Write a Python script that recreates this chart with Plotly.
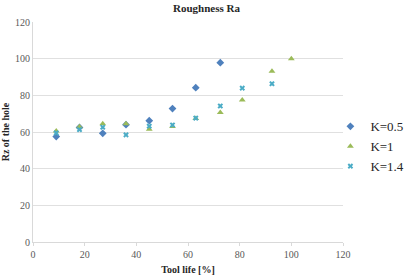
import plotly.graph_objects as go

tool_life_05 = [9, 18, 27, 36, 45, 54, 63, 72.5]
rz_05 = [57.5, 62.5, 59.3, 64.0, 66.2, 72.8, 84.2, 97.8]

tool_life_1 = [9, 18, 27, 36, 45, 54, 63, 72.5, 81, 92.5, 100]
rz_1 = [60.6, 62.9, 64.5, 64.5, 61.5, 63.0, 67.4, 70.6, 77.5, 93.2, 99.9]

tool_life_14 = [9, 18, 27, 36, 45, 54, 63, 72.5, 81, 92.5]
rz_14 = [59.5, 61.3, 62.6, 58.4, 63.2, 63.8, 67.6, 74.2, 83.9, 86.3]

x_ticks = [0, 20, 40, 60, 80, 100, 120]
y_ticks = [0, 20, 40, 60, 80, 100, 120]

serif = "Liberation Serif, Times New Roman, serif"

fig = go.Figure()
fig.add_trace(go.Scatter(x=tool_life_05, y=rz_05, mode="markers", name="K=0.5",
                         marker=dict(symbol="diamond", size=6, color="#4F81BD")))
fig.add_trace(go.Scatter(x=tool_life_1, y=rz_1, mode="markers", name="K=1",
                         marker=dict(symbol="triangle-up", size=6, color="#9BBB59")))
fig.add_trace(go.Scatter(x=tool_life_14, y=rz_14, mode="markers", name="K=1.4",
                         marker=dict(symbol="x", size=5, color="#4BACC6",
                                     line=dict(width=0))))

fig.update_layout(
    width=413, height=275,
    margin=dict(l=33, r=70, t=22, b=33, autoexpand=False),
    paper_bgcolor="white", plot_bgcolor="white",
    font=dict(family=serif, size=10, color="#595959"),
    title=dict(text="<b>Roughness Ra</b>", x=0.5, xanchor="center", y=0.985, yanchor="top",
               font=dict(family=serif, size=11, color="#262626")),
    xaxis=dict(range=[0, 120], tickvals=x_ticks, showgrid=False, zeroline=False,
               showline=True, linecolor="#D9D9D9", linewidth=1, automargin=False,
               ticks="outside", ticklen=3, tickcolor="#D9D9D9",
               tickfont=dict(family=serif, size=10, color="#595959"),
               title=dict(text="<b>Tool life [%]</b>", standoff=6,
                          font=dict(family=serif, size=10, color="#262626"))),
    yaxis=dict(range=[0, 120], tickvals=y_ticks, showgrid=True, gridcolor="#E0E0E0",
               gridwidth=1, zeroline=False, showline=True, linecolor="#D9D9D9",
               ticks="", automargin=False,
               tickfont=dict(family=serif, size=10, color="#595959"),
               title=dict(text="<b>Rz of the hole</b>", standoff=4,
                          font=dict(family=serif, size=10, color="#262626"))),
    legend=dict(x=0.80, y=0.595, xref="container", yref="container",
                xanchor="left", yanchor="top",
                font=dict(family=serif, size=13, color="#262626"),
                itemsizing="trace", itemwidth=30, tracegroupgap=0,
                bgcolor="rgba(0,0,0,0)"),
    showlegend=True,
)

fig.write_html("out.html")
